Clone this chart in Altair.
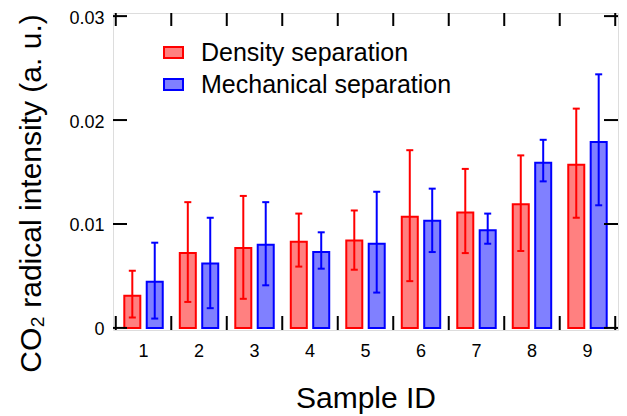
import altair as alt
import pandas as pd

samples = ["1", "2", "3", "4", "5", "6", "7", "8", "9"]
methods = ["Density separation", "Mechanical separation"]

density_mean = [0.0031, 0.0072, 0.0077, 0.0083, 0.0084, 0.0107, 0.0111, 0.0119, 0.0157]
density_lo = [0.0010, 0.0025, 0.0028, 0.0059, 0.0056, 0.0045, 0.0072, 0.0074, 0.0106]
density_hi = [0.0055, 0.0121, 0.0127, 0.0110, 0.0113, 0.0171, 0.0153, 0.0166, 0.0211]

mech_mean = [0.00445, 0.0062, 0.0080, 0.0073, 0.0081, 0.0103, 0.0094, 0.0159, 0.0179]
mech_lo = [0.0009, 0.0019, 0.0041, 0.0057, 0.0034, 0.0073, 0.0081, 0.0141, 0.0118]
mech_hi = [0.0082, 0.0106, 0.0121, 0.0092, 0.0131, 0.0134, 0.0110, 0.0181, 0.0244]

fill_colors = ["#FF8080", "#8080FF"]
stroke_colors = ["#FF0000", "#0000FF"]
y_ticks = [0, 0.01, 0.02, 0.03]

rows = []
for m, means, los, his in [
    (methods[0], density_mean, density_lo, density_hi),
    (methods[1], mech_mean, mech_lo, mech_hi),
]:
    for s, v, lo, hi in zip(samples, means, los, his):
        rows.append({"Sample": s, "Method": m, "mean": v, "lo": lo, "hi": hi})
df = pd.DataFrame(rows)

W, H = 505, 317
TICK = 14
FONT = "Liberation Sans, Arial, Helvetica, sans-serif"

x_scale = alt.Scale(domain=samples, paddingInner=0, paddingOuter=0.05)
y_scale = alt.Scale(domain=[-0.0002, 0.0303], nice=False, zero=False)
off_scale = alt.Scale(domain=methods, paddingInner=0.286, paddingOuter=0.38)
fill_scale = alt.Scale(domain=methods, range=fill_colors)
stroke_scale = alt.Scale(domain=methods, range=stroke_colors)

x_axis = alt.Axis(
    title="Sample ID", labelAngle=0, ticks=False, tickSize=0, domain=False, grid=False,
    labelFontSize=18, labelPadding=12, labelFont=FONT, labelColor="black",
    titleFontSize=30, titleFontWeight="normal", titleFont=FONT, titleColor="black",
    titleY=77, titleBaseline="alphabetic",
)
y_axis = alt.Axis(
    title="CO\u2082 radical intensity (a. u.)", values=y_ticks, ticks=False, tickSize=0,
    domain=False, grid=False,
    labelExpr="datum.value == 0 ? '0' : format(datum.value, '.2f')",
    labelFontSize=18, labelPadding=9, labelOffset=2, labelFont=FONT, labelColor="black",
    titleFontSize=30, titleFontWeight="normal", titleFont=FONT, titleColor="black",
    titleX=-73, titleY=180, titleBaseline="alphabetic", titleAlign="center", titleAngle=270,
)

legend = alt.Legend(
    title=None, orient="none", legendX=48, legendY=27,
    symbolType="M-1,-0.58H1V0.58H-1Z", symbolSize=361, symbolStrokeWidth=2,
    symbolOpacity=1, labelFontSize=25, labelFont=FONT, labelColor="black",
    labelOffset=15, labelLimit=400, rowPadding=6, padding=0,
)

base = alt.Chart(df)
X = alt.X("Sample:N", scale=x_scale, axis=x_axis, sort=samples)
XO = alt.XOffset("Method:N", scale=off_scale, sort=methods)

bars = base.mark_bar(strokeWidth=2, fillOpacity=1).encode(
    x=X, xOffset=XO,
    y=alt.Y("mean:Q", scale=y_scale, axis=y_axis),
    fill=alt.Fill("Method:N", scale=fill_scale, legend=legend, sort=methods),
    stroke=alt.Stroke("Method:N", scale=stroke_scale, legend=legend, sort=methods),
)

errs = base.mark_rule(strokeWidth=2).encode(
    x=X, xOffset=XO,
    y=alt.Y("lo:Q", scale=y_scale, axis=y_axis),
    y2="hi:Q",
    stroke=alt.Stroke("Method:N", scale=stroke_scale, legend=None, sort=methods),
)

cap_color = alt.Color("Method:N", scale=stroke_scale, legend=None, sort=methods)

caps_hi = base.mark_tick(thickness=2, size=7, orient="horizontal", opacity=1).encode(
    x=X, xOffset=XO,
    y=alt.Y("hi:Q", scale=y_scale, axis=y_axis),
    color=cap_color,
)
caps_lo = base.mark_tick(thickness=2, size=7, orient="horizontal", opacity=1).encode(
    x=X, xOffset=XO,
    y=alt.Y("lo:Q", scale=y_scale, axis=y_axis),
    color=cap_color,
)

ytick_df = pd.DataFrame({"v": y_ticks})
left_ticks = alt.Chart(ytick_df).mark_rule(color="black", strokeWidth=2).encode(
    y=alt.Y("v:Q", scale=y_scale, axis=y_axis), x=alt.value(0), x2=alt.value(TICK)
)
right_ticks = alt.Chart(ytick_df).mark_rule(color="black", strokeWidth=2).encode(
    y=alt.Y("v:Q", scale=y_scale, axis=y_axis), x=alt.value(W - TICK), x2=alt.value(W)
)

xtick_df = pd.DataFrame({"Sample": samples})
last_df = pd.DataFrame({"Sample": samples[-1:]})
bottom_ticks = alt.Chart(xtick_df).mark_rule(color="black", strokeWidth=2).encode(
    x=alt.X("Sample:N", scale=x_scale, axis=x_axis, bandPosition=0, sort=samples),
    y=alt.value(H - TICK), y2=alt.value(H),
)
top_ticks = alt.Chart(xtick_df).mark_rule(color="black", strokeWidth=2).encode(
    x=alt.X("Sample:N", scale=x_scale, axis=x_axis, bandPosition=0, sort=samples),
    y=alt.value(0), y2=alt.value(TICK - 1),
)
bottom_last = alt.Chart(last_df).mark_rule(color="black", strokeWidth=2).encode(
    x=alt.X("Sample:N", scale=x_scale, axis=x_axis, bandPosition=1, sort=samples),
    y=alt.value(H - TICK), y2=alt.value(H),
)
top_last = alt.Chart(last_df).mark_rule(color="black", strokeWidth=2).encode(
    x=alt.X("Sample:N", scale=x_scale, axis=x_axis, bandPosition=1, sort=samples),
    y=alt.value(0), y2=alt.value(TICK - 1),
)

chart = alt.layer(
    bars, errs, caps_hi, caps_lo,
    left_ticks, right_ticks, bottom_ticks, top_ticks, bottom_last, top_last,
).properties(
    width=W, height=H,
    autosize=alt.AutoSizeParams(type="none"),
    padding={"left": 105, "top": 5, "right": 1, "bottom": 84},
).configure_view(
    stroke="black", strokeWidth=2
).configure(
    background="white"
)

chart.save("out.html", embed_options={"renderer": "svg", "actions": False})
